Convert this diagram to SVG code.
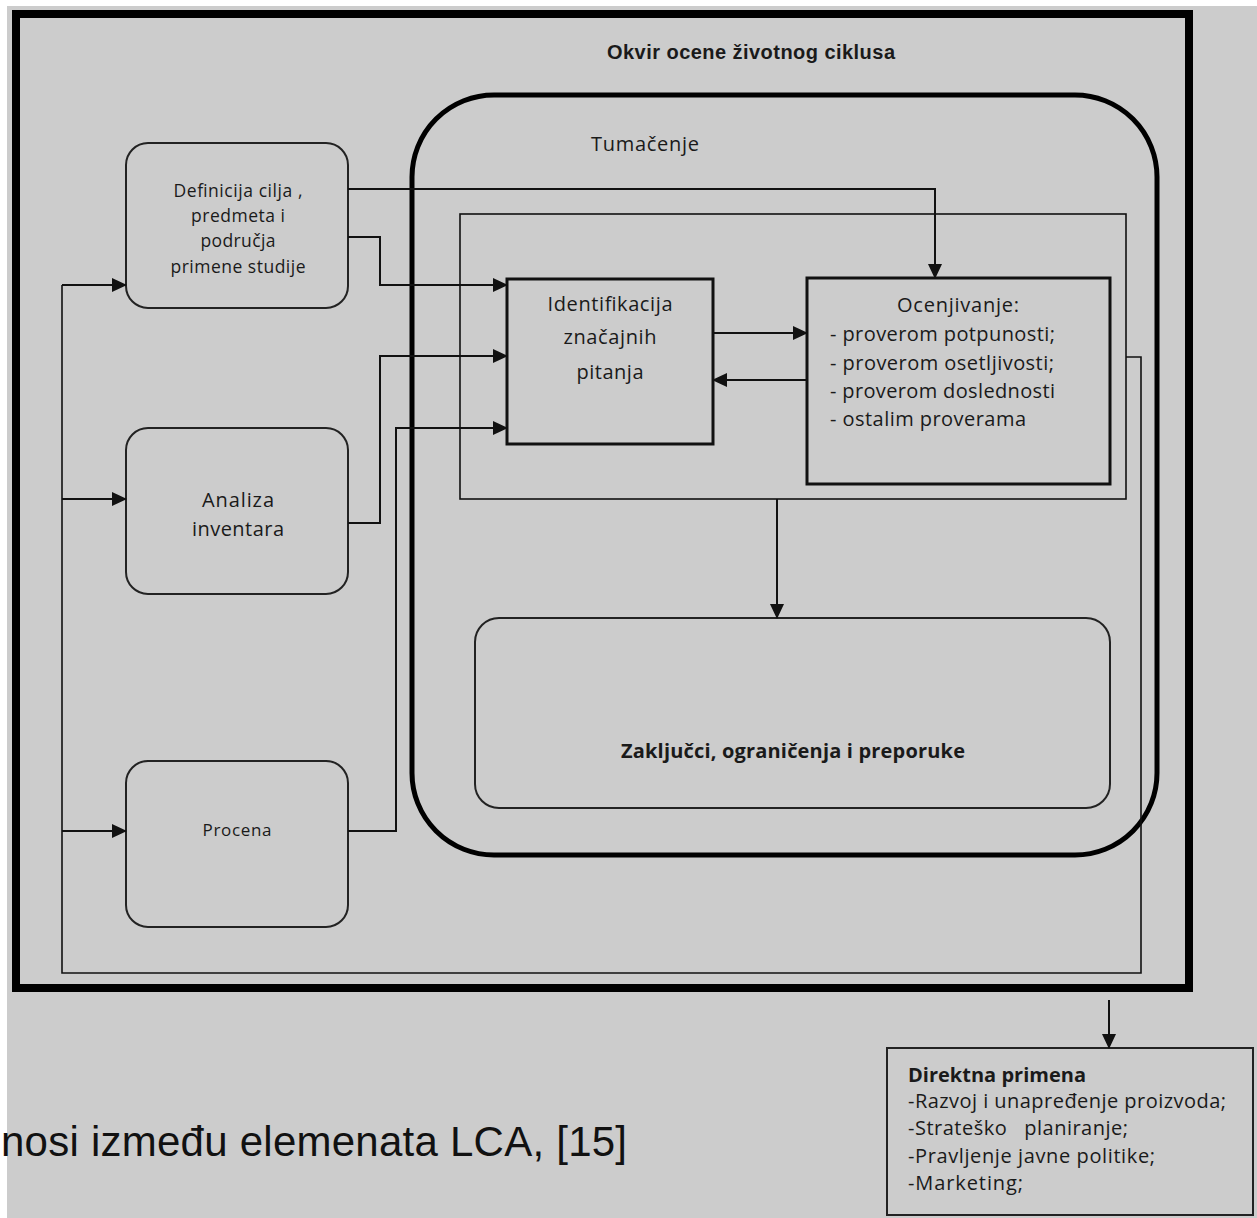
<svg xmlns="http://www.w3.org/2000/svg" width="1257" height="1218" viewBox="0 0 1257 1218">
<style>
.t{font-family:"Open Sans","Noto Sans","DejaVu Sans",sans-serif;fill:#1a1a1a}
.b{font-weight:bold}
.ln{fill:none;stroke:#111;stroke-width:2}
.rbox{fill:none;stroke:#222;stroke-width:2}
.sbox{fill:none;stroke:#111;stroke-width:3}
</style>
<defs>
<marker id="ah" markerUnits="userSpaceOnUse" markerWidth="15" markerHeight="14" refX="14" refY="7" orient="auto">
<path d="M0,0 L15,7 L0,14 Z" fill="#111"/>
</marker>
</defs>
<rect x="0" y="0" width="1257" height="1218" fill="#cccccc"/>
<rect x="0" y="0" width="1257" height="6" fill="#ffffff"/>
<rect x="0" y="0" width="7" height="1218" fill="#ffffff"/>

<g id="frame">
<rect x="16" y="14" width="1173" height="974" fill="none" stroke="#000" stroke-width="8"/>
<text class="t b" x="751" y="59" font-size="20" text-anchor="middle" style="font-family:'Liberation Sans',Arial,sans-serif" textLength="288">Okvir ocene životnog ciklusa</text>
</g>

<g id="tumacenje">
<rect x="412" y="95" width="745" height="760" rx="82" ry="82" fill="none" stroke="#000" stroke-width="5"/>
<text class="t" x="645" y="151" font-size="20" text-anchor="middle" textLength="108">Tumačenje</text>
</g>

<g id="inner-frame">
<rect x="460" y="214" width="666" height="285" fill="none" stroke="#111" stroke-width="1.6"/>
</g>

<g id="definicija">
<rect class="rbox" x="126" y="143" width="222" height="165" rx="22"/>
<text class="t" x="238" y="197" font-size="17.5" text-anchor="middle" textLength="129">Definicija cilja ,</text>
<text class="t" x="238" y="222" font-size="17.5" text-anchor="middle" textLength="94">predmeta i</text>
<text class="t" x="238" y="247" font-size="17.5" text-anchor="middle" textLength="75">područja</text>
<text class="t" x="238" y="273" font-size="17.5" text-anchor="middle" textLength="135">primene studije</text>
</g>

<g id="analiza">
<rect class="rbox" x="126" y="428" width="222" height="166" rx="22"/>
<text class="t" x="238" y="507" font-size="20" text-anchor="middle" textLength="72">Analiza</text>
<text class="t" x="238" y="536" font-size="20" text-anchor="middle" textLength="92">inventara</text>
</g>

<g id="procena">
<rect class="rbox" x="126" y="761" width="222" height="166" rx="22"/>
<text class="t" x="237" y="836" font-size="17" text-anchor="middle" textLength="69">Procena</text>
</g>

<g id="identifikacija">
<rect class="sbox" x="507" y="279" width="206" height="165"/>
<text class="t" x="610" y="311" font-size="20" text-anchor="middle" textLength="125">Identifikacija</text>
<text class="t" x="610" y="344" font-size="20" text-anchor="middle" textLength="93">značajnih</text>
<text class="t" x="610" y="379" font-size="20" text-anchor="middle" textLength="67">pitanja</text>
</g>

<g id="ocenjivanje">
<rect class="sbox" x="807" y="278" width="303" height="206"/>
<text class="t" x="958" y="312" font-size="20" text-anchor="middle" textLength="122">Ocenjivanje:</text>
<text class="t" x="830" y="341" font-size="20" textLength="225">- proverom potpunosti;</text>
<text class="t" x="830" y="370" font-size="20" textLength="224">- proverom osetljivosti;</text>
<text class="t" x="830" y="398" font-size="20" textLength="225">- proverom doslednosti</text>
<text class="t" x="830" y="426" font-size="20" textLength="196">- ostalim proverama</text>
</g>

<g id="zakljucci">
<rect class="rbox" x="475" y="618" width="635" height="190" rx="24"/>
<text class="t b" x="793" y="758" font-size="20" text-anchor="middle" textLength="344">Zaključci, ograničenja i preporuke</text>
</g>

<g id="direktna">
<rect x="887" y="1048" width="366" height="167" fill="none" stroke="#222" stroke-width="2"/>
<text class="t b" x="908" y="1082" font-size="20" textLength="178">Direktna primena</text>
<text class="t" x="908" y="1108" font-size="20" textLength="318">-Razvoj i unapređenje proizvoda;</text>
<text class="t" x="908" y="1135" font-size="20" textLength="220" xml:space="preserve">-Strateško   planiranje;</text>
<text class="t" x="908" y="1163" font-size="20" textLength="247">-Pravljenje javne politike;</text>
<text class="t" x="908" y="1190" font-size="20" textLength="115">-Marketing;</text>
</g>

<g id="connectors">
<polyline class="ln" points="348,189 935,189 935,278" marker-end="url(#ah)"/>
<polyline class="ln" points="348,237 380,237 380,285 507,285" marker-end="url(#ah)"/>
<polyline class="ln" points="348,523 380,523 380,356 507,356" marker-end="url(#ah)"/>
<polyline class="ln" points="348,831 396,831 396,428 507,428" marker-end="url(#ah)"/>
<line class="ln" x1="713" y1="333" x2="807" y2="333" marker-end="url(#ah)"/>
<line class="ln" x1="807" y1="380" x2="713" y2="380" marker-end="url(#ah)"/>
<line class="ln" x1="777" y1="499" x2="777" y2="618" marker-end="url(#ah)"/>
<polyline class="ln" points="1126,357 1141,357 1141,973 62,973 62,285" style="stroke-width:1.6"/>
<line class="ln" x1="62" y1="285" x2="126" y2="285" marker-end="url(#ah)"/>
<line class="ln" x1="62" y1="499" x2="126" y2="499" marker-end="url(#ah)"/>
<line class="ln" x1="62" y1="831" x2="126" y2="831" marker-end="url(#ah)"/>
<line class="ln" x1="1109" y1="1000" x2="1109" y2="1048" marker-end="url(#ah)"/>
</g>

<g id="caption">
<text x="1" y="1156" font-size="42" style="font-family:'Liberation Sans',Arial,sans-serif" fill="#111" textLength="626">nosi između elemenata LCA, [15]</text>
</g>
</svg>
